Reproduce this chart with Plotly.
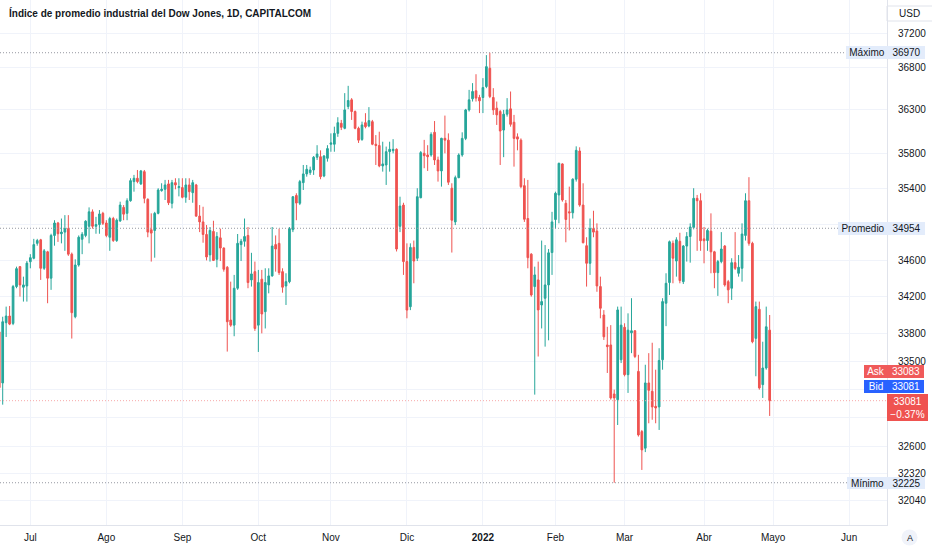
import math
import pandas as pd
import plotly.graph_objects as go

# Dow Jones CFD, daily candles
title = "Índice de promedio industrial del Dow Jones, 1D, CAPITALCOM"
first_day = "2021-06-18"
last_day = "2022-04-29"
closed_days = ["2021-12-24", "2022-04-15"]

opens = [
    33816, 33269, 33915, 33988, 33908, 34309, 34528, 34302, 34316,
    34582, 34621, 34786, 34825, 34510, 34692, 34401, 34874, 35013, 34893, 34911,
    34950, 34666, 33980, 34546, 34831, 34874, 34976, 35138, 34976, 34995, 35121,
    35013, 34854, 35063, 34817, 35036, 35188, 35121, 35263, 35479, 35517, 35453,
    35592, 35279, 34938, 34930, 35121, 35377, 35392, 35453, 35234, 35467, 35411,
    35411, 35302, 35441, 35354, 35441, 35090, 35025, 34885, 34658, 34919, 34609,
    34847, 34734, 34521, 33944, 33889, 34291, 34772, 34809, 34874, 34382, 34473,
    33889, 34390, 34035, 34327, 34426, 34772, 34786, 34473, 34316, 34363, 34938,
    35322, 35234, 35467, 35566, 35581, 35611, 35756, 35762, 35543, 35744,
    35905, 35905, 36030, 36146, 36088, 36340, 36418, 36282, 36088, 35960, 36153,
    36115, 36165, 35905, 35890, 35657, 35668, 35820, 35831, 35847, 34976, 35214,
    34584, 34089, 34741, 34621, 35297, 35801, 35782, 35782, 36042, 35725, 35600,
    35973, 35952, 35404, 35025, 35524, 35782, 35972, 36301, 36430, 36523, 36445,
    36445, 36573, 36787, 36445, 36321, 36282, 36068, 36251, 36313, 36158, 35990,
    35952, 35433, 35063, 34666, 34309, 34382, 34108, 34181, 34327, 34684,
    35052, 35328, 35680, 35234, 35138, 35127, 35506, 35827, 35214, 34760,
    34565, 34950, 34923, 34309, 33999, 33675, 33675, 33152, 33092, 33516,
    33866, 33357, 33806, 33828, 33392, 32756, 32583, 33269, 33180, 33021, 33015,
    33516, 34127, 34353, 34786, 34590, 34809, 34363, 34756, 34862, 34964, 35290, 35263,
    34836, 34817, 34922, 34692, 34462, 34584, 34756, 34363, 34291, 34572,
    34455, 34510, 34874, 35263, 34786, 33746, 34061, 33251, 33428, 33835,
]
highs = [
    33835, 33980, 34090, 34097, 34327, 34528, 34535, 34418, 34590,
    34666, 34836, 34836, 34836, 34723, 34703, 34893, 35044, 35025, 35063, 35101,
    35101, 34684, 34609, 34874, 34911, 35044, 35188, 35165, 35082, 35158, 35138,
    35044, 35082, 35082, 35063, 35252, 35214, 35290, 35517, 35555, 35611, 35611,
    35611, 35290, 35121, 35138, 35404, 35460, 35498, 35498, 35498, 35517, 35517,
    35517, 35517, 35517, 35498, 35453, 35214, 35195, 34990, 34968, 35038, 34911,
    34950, 34741, 34535, 34363, 34437, 34890, 34836, 35063, 34968, 34681, 34584,
    34492, 34492, 34510, 34510, 34968, 34874, 34950, 34510, 34455, 34968, 35316,
    35347, 35498, 35668, 35668, 35649, 35770, 35894, 35835, 35782, 35894,
    36030, 36107, 36216, 36185, 36496, 36581, 36438, 36294, 36107, 36165, 36263,
    36333, 36185, 36010, 36049, 35934, 35878, 35934, 35963, 35858, 35308, 35240,
    34786, 34786, 34817, 35404, 35827, 35955, 35894, 36042, 36172, 35763, 35979,
    36235, 36030, 35460, 35547, 35801, 36042, 36313, 36534, 36613, 36717, 36476,
    36671, 36942, 36970, 36554, 36398, 36301, 36301, 36438, 36515, 36243, 36030,
    35972, 35517, 35498, 34677, 34528, 34584, 34817, 34767, 34723, 35138,
    35365, 35694, 35687, 35271, 35422, 35517, 35881, 35870, 35460, 34854,
    35063, 35150, 35009, 34418, 34052, 33871, 33889, 33198, 34090, 34090,
    33909, 34017, 34182, 33835, 33569, 32773, 33463, 33587, 33699, 33410, 33640,
    34182, 34455, 34817, 34817, 34854, 34904, 34767, 34911, 35009, 35404, 35328, 35347,
    34968, 34950, 35121, 34703, 34602, 34911, 34767, 34382, 34621, 34911,
    34656, 35009, 35347, 35529, 34804, 34145, 34145, 33710, 34090, 33999,
]
lows = [
    33177, 33039, 33761, 33889, 33889, 34291, 34199, 34145, 34145,
    34510, 34609, 34760, 34382, 34492, 34127, 34273, 34760, 34802, 34786, 34703,
    34647, 33744, 33963, 34528, 34666, 34854, 34786, 34950, 34893, 34893, 34990,
    34854, 34703, 34802, 34802, 35025, 35044, 35044, 35252, 35365, 35460, 35441,
    35234, 34854, 34584, 34627, 35110, 35365, 35271, 35214, 35177, 35392, 35312,
    35290, 35240, 35271, 35240, 35082, 34911, 34793, 34597, 34584, 34590, 34521,
    34590, 34473, 33604, 33871, 33769, 34273, 34590, 34749, 34291, 34309, 33827,
    33600, 33800, 33853, 34235, 34418, 34473, 34437, 34242, 34108, 34345, 34911,
    35044, 35214, 35384, 35535, 35555, 35555, 35725, 35506, 35529, 35706,
    35819, 35819, 35990, 36068, 36077, 36310, 36185, 36077, 35920, 35944, 36088,
    36100, 35894, 35668, 35642, 35592, 35441, 35592, 35801, 34696, 34911, 34437,
    33963, 34052, 34345, 34590, 35290, 35631, 35600, 35762, 35668, 35479, 35422,
    35801, 35441, 34684, 34990, 35517, 35762, 35952, 36282, 36398, 36398, 36264,
    36264, 36554, 36438, 36243, 36127, 35668, 35757, 36223, 36107, 35649, 35835,
    35404, 35025, 34510, 34199, 33145, 33551, 33853, 33657, 33725, 34437,
    34950, 35009, 35252, 34798, 34930, 35063, 35479, 35195, 34786, 34309,
    34437, 34854, 34252, 33963, 33729, 33375, 33092, 32225, 32825, 33481,
    33339, 33163, 33587, 33534, 32704, 32357, 32542, 32843, 32880, 32843, 32773,
    33410, 33878, 34217, 34345, 34418, 34345, 34337, 34584, 34572, 34942, 34703, 34703,
    34565, 34703, 34455, 34291, 34207, 34565, 34309, 34127, 34163, 34492,
    34418, 34363, 34817, 34760, 33693, 33340, 33198, 33110, 33410, 32920,
]
closes = [
    33219, 33926, 33988, 33900, 34309, 34506, 34327, 34327, 34567,
    34627, 34772, 34817, 34510, 34703, 34401, 34874, 35013, 34893, 34911, 34950,
    34666, 34024, 34546, 34854, 34887, 35033, 35138, 34976, 34995, 35114, 35009,
    34874, 35063, 34817, 35044, 35214, 35112, 35263, 35490, 35517, 35479, 35600,
    35290, 34911, 34900, 35121, 35384, 35392, 35441, 35240, 35467, 35441, 35422,
    35302, 35441, 35365, 35467, 35090, 35025, 34885, 34635, 34930, 34597, 34862,
    34734, 34499, 33926, 33889, 34291, 34786, 34809, 34862, 34353, 34448, 33853,
    34353, 34010, 34353, 34426, 34756, 34723, 34462, 34302, 34363, 34950, 35308,
    35237, 35479, 35566, 35619, 35611, 35756, 35793, 35535, 35770, 35855,
    35920, 36030, 36153, 36100, 36301, 36410, 36282, 36088, 35952, 36127, 36107,
    36177, 35905, 35890, 35657, 35680, 35820, 35847, 35847, 34723, 35203, 34584,
    34052, 34741, 34590, 35308, 35809, 35774, 35762, 36018, 35725, 35600, 35973,
    35952, 35472, 35044, 35524, 35782, 35972, 36301, 36418, 36515, 36438, 36406,
    36561, 36806, 36456, 36301, 36243, 36057, 36251, 36301, 36134, 35972, 35964,
    35422, 35055, 34627, 34217, 34437, 34054, 34145, 34327, 34681, 35025,
    35347, 35687, 35271, 35052, 35127, 35506, 35835, 35214, 34793, 34565,
    34950, 34911, 34316, 34072, 33763, 33657, 33110, 33110, 34054, 33889,
    33357, 33835, 33828, 33551, 32721, 32565, 33269, 33191, 33015, 33004, 33509,
    34145, 34345, 34804, 34621, 34825, 34375, 34756, 34862, 34968, 35290, 35263, 34815,
    34815, 34930, 34692, 34462, 34584, 34723, 34327, 34273, 34572, 34510,
    34521, 34890, 35263, 34786, 33710, 34090, 33216, 33428, 33871, 33081,
]

month_ticks = ["2021-07-01", "2021-08-02", "2021-09-01", "2021-10-01", "2021-11-01", "2021-12-01",
               "2022-01-03", "2022-02-01", "2022-03-01", "2022-04-01", "2022-05-02", "2022-06-01"]
month_labels = ["Jul", "Ago", "Sep", "Oct", "Nov", "Dic", "<b>2022</b>", "Feb", "Mar", "Abr", "Mayo", "Jun"]
price_ticks = [32040, 32320, 32600, 32900, 33200, 33500, 33800, 34200, 34600,
               35000, 35400, 35800, 36300, 36800, 37200]
# these three sit under the price tags on the right, only their grid lines show
hidden_ticks = [32900, 33200, 35000]

max_price = 36970
avg_price = 34954
min_price = 32225
ask_price = 33083
bid_price = 33081
last_price = 33081
last_change = "−0.37%"

# ---- layout helpers ----
UP = "#26a69a"
DOWN = "#ef5350"
TEXT = "#131722"
GRID = "#f0f3fa"
BORDER = "#e0e3eb"
TAG_BG = "#e3ecfb"
FONT = "Liberation Sans, Arial, sans-serif"

PLOT_W, PLOT_H = 887, 525
Y_LO, Y_HI = math.log10(31793), math.log10(37598)


def px(x):
    return x / PLOT_W


def py(y):
    return 1 - y / PLOT_H


def pv(v):
    return (math.log10(v) - Y_LO) / (Y_HI - Y_LO)


# candles sit at midday so the weekend breaks never cut a body
days = [d for d in pd.bdate_range(first_day, last_day) if d.strftime("%Y-%m-%d") not in closed_days]
dates = [d + pd.Timedelta(hours=12) for d in days]

fig = go.Figure(go.Candlestick(
    x=dates, open=opens, high=highs, low=lows, close=closes,
    increasing=dict(line=dict(color=UP, width=1), fillcolor=UP),
    decreasing=dict(line=dict(color=DOWN, width=1), fillcolor=DOWN),
    whiskerwidth=0, showlegend=False, hoverinfo="skip",
))

fig.update_layout(
    width=932, height=550,
    margin=dict(l=0, r=932 - PLOT_W, t=0, b=550 - PLOT_H, autoexpand=False),
    paper_bgcolor="white", plot_bgcolor="white",
    font=dict(family=FONT, size=10, color=TEXT),
    showlegend=False,
)
fig.update_xaxes(
    type="date", range=["2021-06-18 17:17", "2022-06-16 11:00"],
    rangebreaks=[dict(bounds=["sat", "mon"]), dict(values=closed_days)],
    rangeslider_visible=False,
    tickvals=[t + " 12:00" for t in month_ticks], ticktext=month_labels,
    tickfont=dict(size=10, color=TEXT), ticks="", ticklabelstandoff=3,
    showgrid=True, gridcolor=GRID, gridwidth=1,
    showline=True, linecolor=BORDER, linewidth=1, zeroline=False,
)
fig.update_yaxes(
    type="log", side="right", range=[Y_LO, Y_HI],
    tickvals=price_ticks,
    ticktext=["" if v in hidden_ticks else str(v) for v in price_ticks],
    tickfont=dict(size=10, color=TEXT), ticks="", ticklabelstandoff=8,
    showgrid=True, gridcolor=GRID, gridwidth=1,
    showline=True, linecolor=BORDER, linewidth=1, zeroline=False,
)

# level lines
for level, end_px in [(max_price, 846), (avg_price, 838), (min_price, 847)]:
    fig.add_shape(type="line", xref="paper", yref="paper", x0=0, x1=px(end_px),
                  y0=pv(level), y1=pv(level), line=dict(color="#9598a1", width=1, dash="1px,2px"))
fig.add_shape(type="line", xref="paper", yref="paper", x0=0, x1=1,
              y0=pv(last_price), y1=pv(last_price), line=dict(color="#f7a9a8", width=1, dash="1px,2px"))


def tag(text, x0, w, y, bg, fg, yshift=0, h=13):
    fig.add_annotation(text=text, xref="paper", yref="paper", x=px(x0), y=y,
                       xanchor="left", yanchor="middle", width=w, height=h,
                       bgcolor=bg, borderpad=0, borderwidth=0, showarrow=False,
                       yshift=yshift, font=dict(size=10, color=fg, family=FONT))


tag("Máximo", 846, 42, pv(max_price), TAG_BG, TEXT)
tag(str(max_price), 888, 37, pv(max_price), TAG_BG, TEXT)
tag("Promedio", 838, 50, pv(avg_price), TAG_BG, TEXT)
tag(str(avg_price), 888, 37, pv(avg_price), TAG_BG, TEXT)
tag("Mínimo", 847, 41, pv(min_price), TAG_BG, TEXT, h=12)
tag(str(min_price), 888, 37, pv(min_price), TAG_BG, TEXT, h=12)

tag("Ask", 864, 24, pv(bid_price), "#f05a5a", "white", yshift=29)
tag(str(ask_price), 888, 36, pv(bid_price), "#f05a5a", "white", yshift=29)
tag("Bid", 864, 24, pv(bid_price), "#2962ff", "white", yshift=14)
tag(str(bid_price), 888, 36, pv(bid_price), "#2962ff", "white", yshift=14)

fig.add_annotation(text=f"{last_price}<br>{last_change}", xref="paper", yref="paper",
                   x=px(887), y=pv(last_price), xanchor="left", yanchor="top",
                   width=41, height=27, bgcolor="#ef5350", borderpad=0, borderwidth=0,
                   showarrow=False, yshift=7, font=dict(size=10, color="white", family=FONT))

# title
fig.add_annotation(text=f"<b>{title}</b>", xref="paper", yref="paper", x=px(7), y=py(13),
                   xanchor="left", yanchor="middle", showarrow=False,
                   font=dict(size=10, color=TEXT, family=FONT))

# currency box
fig.add_shape(type="rect", xref="paper", yref="paper", x0=px(887), x1=px(945),
              y0=py(21), y1=py(6), line=dict(color=BORDER, width=1))
fig.add_annotation(text="USD", xref="paper", yref="paper", x=px(909), y=py(13.5),
                   xanchor="center", yanchor="middle",
                   showarrow=False, font=dict(size=10, color=TEXT, family=FONT))

# auto-scale button
fig.add_shape(type="circle", xref="paper", yref="paper", x0=px(901.5), x1=px(917.5),
              y0=py(545.5), y1=py(529.5), fillcolor="#f0f3fa", line=dict(width=0))
fig.add_annotation(text="A", xref="paper", yref="paper", x=px(909.5), y=py(537.5),
                   xanchor="center", yanchor="middle",
                   showarrow=False, font=dict(size=9, color=TEXT, family=FONT))

# page body has a default 8px margin; drop it so the figure fills the window
fig.write_html("out.html", config={"displayModeBar": False},
               post_script="document.body.style.margin='0';")
